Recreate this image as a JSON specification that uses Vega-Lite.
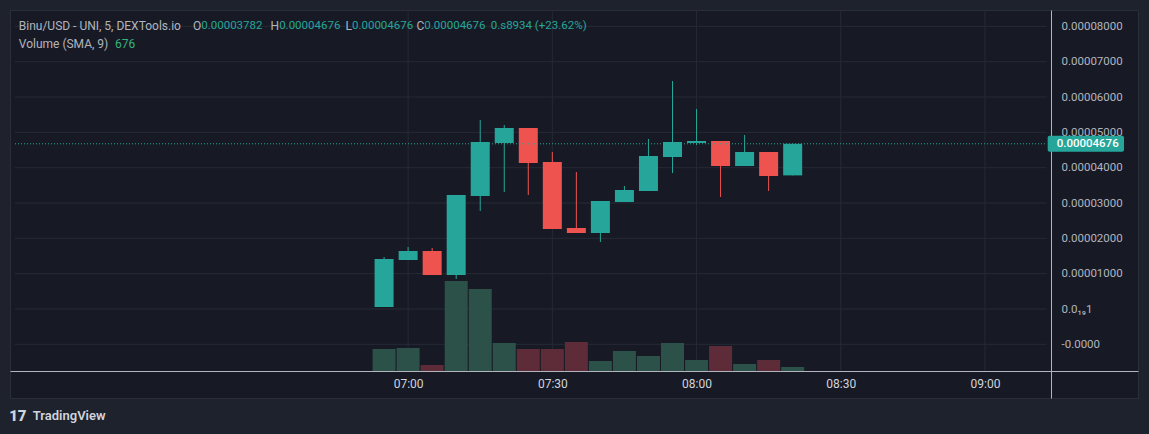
{
  "$schema": "https://vega.github.io/schema/vega-lite/v6.json",
  "width": 1128,
  "height": 388,
  "autosize": {"type": "none"},
  "padding": {"left": 10, "top": 10, "right": 11, "bottom": 36},
  "background": "#1e222d",
  "config": {
    "view": {"fill": "#171a25", "stroke": "#2a2e39", "strokeWidth": 1},
    "text": {"font": "Roboto"},
    "axis": {"labelFont": "Roboto"}
  },
  "datasets": {
    "candles": [
      {"t": "2024-01-01T06:55:00", "o": 0.00000057, "h": 0.00001472, "l": 0.00000057, "c": 0.00001415, "v": 1012},
      {"t": "2024-01-01T07:00:00", "o": 0.00001387, "h": 0.00001755, "l": 0.00001387, "c": 0.00001642, "v": 1058},
      {"t": "2024-01-01T07:05:00", "o": 0.00001642, "h": 0.00001727, "l": 0.00000962, "c": 0.00000962, "v": 276},
      {"t": "2024-01-01T07:10:00", "o": 0.00000962, "h": 0.00003227, "l": 0.00000849, "c": 0.00003227, "v": 4140},
      {"t": "2024-01-01T07:15:00", "o": 0.00003198, "h": 0.00005350, "l": 0.00002774, "c": 0.00004727, "v": 3772},
      {"t": "2024-01-01T07:20:00", "o": 0.00004699, "h": 0.00005208, "l": 0.00003312, "c": 0.00005123, "v": 1288},
      {"t": "2024-01-01T07:25:00", "o": 0.00005123, "h": 0.00005123, "l": 0.00003227, "c": 0.00004132, "v": 1012},
      {"t": "2024-01-01T07:30:00", "o": 0.00004161, "h": 0.00004444, "l": 0.00002264, "c": 0.00002264, "v": 1012},
      {"t": "2024-01-01T07:35:00", "o": 0.00002293, "h": 0.00003878, "l": 0.00002151, "c": 0.00002151, "v": 1334},
      {"t": "2024-01-01T07:40:00", "o": 0.00002151, "h": 0.00003057, "l": 0.00001896, "c": 0.00003057, "v": 460},
      {"t": "2024-01-01T07:45:00", "o": 0.00003029, "h": 0.00003481, "l": 0.00003029, "c": 0.00003368, "v": 920},
      {"t": "2024-01-01T07:50:00", "o": 0.00003340, "h": 0.00004812, "l": 0.00003340, "c": 0.00004331, "v": 690},
      {"t": "2024-01-01T07:55:00", "o": 0.00004302, "h": 0.00006453, "l": 0.00003849, "c": 0.00004727, "v": 1288},
      {"t": "2024-01-01T08:00:00", "o": 0.00004699, "h": 0.00005661, "l": 0.00004642, "c": 0.00004755, "v": 506},
      {"t": "2024-01-01T08:05:00", "o": 0.00004755, "h": 0.00004755, "l": 0.00003170, "c": 0.00004048, "v": 1150},
      {"t": "2024-01-01T08:10:00", "o": 0.00004048, "h": 0.00004925, "l": 0.00004048, "c": 0.00004444, "v": 322},
      {"t": "2024-01-01T08:15:00", "o": 0.00004444, "h": 0.00004444, "l": 0.00003340, "c": 0.00003764, "v": 506},
      {"t": "2024-01-01T08:20:00", "o": 0.00003782, "h": 0.00004676, "l": 0.00003782, "c": 0.00004676, "v": 184}
    ]
  },
  "layer": [
    {
      "layer": [
        {
          "data": {"values": [{"p": -0.00001}, {"p": 0}, {"p": 0.00001}, {"p": 0.00002}, {"p": 0.00003}, {"p": 0.00004}, {"p": 0.00005}, {"p": 0.00006}, {"p": 0.00007}, {"p": 0.00008}]},
          "mark": {"type": "rule", "color": "#262a36", "strokeWidth": 1},
          "encoding": {
            "y": {"field": "p", "type": "quantitative", "scale": {"domain": [-0.00002519, 0.00008463], "zero": false, "nice": false}, "axis": null},
            "x": {"datum": {"year": 2024, "month": 1, "date": 1, "hours": 5, "minutes": 38, "seconds": 13}, "type": "temporal", "scale": {"domain": [{"year": 2024, "month": 1, "date": 1, "hours": 5, "minutes": 38, "seconds": 13}, {"year": 2024, "month": 1, "date": 1, "hours": 9, "minutes": 30, "seconds": 48}], "nice": false}, "axis": null},
            "x2": {"datum": {"year": 2024, "month": 1, "date": 1, "hours": 9, "minutes": 12, "seconds": 51}}
          }
        },
        {
          "data": {"values": [{"g": "2024-01-01T07:00:00"}, {"g": "2024-01-01T07:30:00"}, {"g": "2024-01-01T08:00:00"}, {"g": "2024-01-01T08:30:00"}, {"g": "2024-01-01T09:00:00"}]},
          "mark": {"type": "rule", "color": "#262a36", "strokeWidth": 1},
          "encoding": {
            "x": {"field": "g", "type": "temporal", "scale": {"domain": [{"year": 2024, "month": 1, "date": 1, "hours": 5, "minutes": 38, "seconds": 13}, {"year": 2024, "month": 1, "date": 1, "hours": 9, "minutes": 30, "seconds": 48}], "nice": false}, "axis": null},
            "y": {"datum": 0.00008463, "type": "quantitative", "scale": {"domain": [-0.00002519, 0.00008463], "zero": false, "nice": false}, "axis": null},
            "y2": {"datum": -0.00001755}
          }
        }
      ],
      "resolve": {"axis": {"x": "independent", "y": "independent"}}
    },
    {
      "data": {"name": "candles"},
      "mark": {"type": "bar", "width": 23},
      "encoding": {
        "x": {"field": "t", "type": "temporal", "scale": {"domain": [{"year": 2024, "month": 1, "date": 1, "hours": 5, "minutes": 38, "seconds": 13}, {"year": 2024, "month": 1, "date": 1, "hours": 9, "minutes": 30, "seconds": 48}], "nice": false}, "axis": null},
        "y": {"field": "v", "type": "quantitative", "scale": {"domain": [-1242, 16606], "zero": false, "nice": false}, "axis": null},
        "y2": {"datum": 0},
        "color": {"condition": {"test": "datum.c >= datum.o", "value": "#2c5148"}, "value": "#5d2c38"}
      }
    },
    {
      "layer": [
        {
          "data": {"name": "candles"},
          "mark": {"type": "rule", "strokeWidth": 1},
          "encoding": {
            "x": {"field": "t", "type": "temporal", "scale": {"domain": [{"year": 2024, "month": 1, "date": 1, "hours": 5, "minutes": 38, "seconds": 13}, {"year": 2024, "month": 1, "date": 1, "hours": 9, "minutes": 30, "seconds": 48}], "nice": false},
              "axis": {"orient": "bottom", "values": [{"year": 2024, "month": 1, "date": 1, "hours": 7, "minutes": 0}, {"year": 2024, "month": 1, "date": 1, "hours": 7, "minutes": 30}, {"year": 2024, "month": 1, "date": 1, "hours": 8, "minutes": 0}, {"year": 2024, "month": 1, "date": 1, "hours": 8, "minutes": 30}, {"year": 2024, "month": 1, "date": 1, "hours": 9, "minutes": 0}],
                "format": "%H:%M", "offset": -27, "ticks": false, "tickSize": 0, "grid": false, "title": null,
                "domainColor": "#b2b5be", "domainWidth": 1, "labelColor": "#d1d4dc", "labelFontSize": 12, "labelPadding": 7, "labelFlush": false, "labelOverlap": false}},
            "y": {"field": "l", "type": "quantitative", "scale": {"domain": [-0.00002519, 0.00008463], "zero": false, "nice": false},
              "axis": {"orient": "right", "values": [-0.00001, 0, 0.00001, 0.00002, 0.00003, 0.00004, 0.00005, 0.00006, 0.00007, 0.00008],
                "labelExpr": "datum.value == 0 ? '0.0₁₉1' : (datum.value < 0 ? '-0.0000' : format(datum.value, '.8f'))",
                "offset": -87, "ticks": false, "tickSize": 0, "grid": false, "title": null,
                "domainColor": "#b2b5be", "domainWidth": 1, "labelColor": "#b2b5be", "labelFontSize": 11.5, "labelPadding": 10, "labelAlign": "left", "labelBaseline": "middle", "labelFlush": false, "labelOverlap": false}},
            "y2": {"field": "h"},
            "color": {"condition": {"test": "datum.c >= datum.o", "value": "#26a69a"}, "value": "#ef5350"}
          }
        },
        {
          "data": {"name": "candles"},
          "mark": {"type": "bar", "width": 19},
          "encoding": {
            "x": {"field": "t", "type": "temporal", "scale": {"domain": [{"year": 2024, "month": 1, "date": 1, "hours": 5, "minutes": 38, "seconds": 13}, {"year": 2024, "month": 1, "date": 1, "hours": 9, "minutes": 30, "seconds": 48}], "nice": false}, "axis": null},
            "y": {"field": "o", "type": "quantitative", "scale": {"domain": [-0.00002519, 0.00008463], "zero": false, "nice": false}, "axis": null},
            "y2": {"field": "c"},
            "color": {"condition": {"test": "datum.c >= datum.o", "value": "#26a69a"}, "value": "#ef5350"}
          }
        },
        {
          "data": {"values": [{}]},
          "mark": {"type": "rule", "color": "#26a69a", "strokeDash": [1, 2], "strokeWidth": 1},
          "encoding": {
            "x": {"datum": {"year": 2024, "month": 1, "date": 1, "hours": 5, "minutes": 38, "seconds": 13}, "type": "temporal", "scale": {"domain": [{"year": 2024, "month": 1, "date": 1, "hours": 5, "minutes": 38, "seconds": 13}, {"year": 2024, "month": 1, "date": 1, "hours": 9, "minutes": 30, "seconds": 48}], "nice": false}, "axis": null},
            "x2": {"datum": {"year": 2024, "month": 1, "date": 1, "hours": 9, "minutes": 12, "seconds": 51}},
            "y": {"datum": 0.00004676, "type": "quantitative", "scale": {"domain": [-0.00002519, 0.00008463], "zero": false, "nice": false}, "axis": null}
          }
        },
        {
          "data": {"values": [{}]},
          "mark": {"type": "rect", "color": "#26a69a", "cornerRadius": 2},
          "encoding": {
            "x": {"datum": {"year": 2024, "month": 1, "date": 1, "hours": 9, "minutes": 13, "seconds": 3}, "type": "temporal", "scale": {"domain": [{"year": 2024, "month": 1, "date": 1, "hours": 5, "minutes": 38, "seconds": 13}, {"year": 2024, "month": 1, "date": 1, "hours": 9, "minutes": 30, "seconds": 48}], "nice": false}, "axis": null},
            "x2": {"datum": {"year": 2024, "month": 1, "date": 1, "hours": 9, "minutes": 28, "seconds": 56}},
            "y": {"datum": 0.00004902, "type": "quantitative", "scale": {"domain": [-0.00002519, 0.00008463], "zero": false, "nice": false}, "axis": null},
            "y2": {"datum": 0.00004450}
          }
        },
        {
          "data": {"values": [{}]},
          "mark": {"type": "text", "text": "0.00004676", "color": "#ffffff", "fontSize": 11.5, "fontWeight": 500, "align": "left", "baseline": "middle"},
          "encoding": {
            "x": {"datum": {"year": 2024, "month": 1, "date": 1, "hours": 9, "minutes": 14, "seconds": 55}, "type": "temporal", "scale": {"domain": [{"year": 2024, "month": 1, "date": 1, "hours": 5, "minutes": 38, "seconds": 13}, {"year": 2024, "month": 1, "date": 1, "hours": 9, "minutes": 30, "seconds": 48}], "nice": false}, "axis": null},
            "y": {"datum": 0.00004676, "type": "quantitative", "scale": {"domain": [-0.00002519, 0.00008463], "zero": false, "nice": false}, "axis": null}
          }
        },
        {
          "data": {"values": [{}]},
          "mark": {"type": "text", "text": "Binu/USD - UNI, 5, DEXTools.io", "color": "#b2b5be", "fontSize": 12, "align": "left", "baseline": "middle"},
          "encoding": {
            "x": {"datum": {"year": 2024, "month": 1, "date": 1, "hours": 5, "minutes": 39, "seconds": 0}, "type": "temporal", "scale": {"domain": [{"year": 2024, "month": 1, "date": 1, "hours": 5, "minutes": 38, "seconds": 13}, {"year": 2024, "month": 1, "date": 1, "hours": 9, "minutes": 30, "seconds": 48}], "nice": false}, "axis": null},
            "y": {"datum": 0.00008020, "type": "quantitative", "scale": {"domain": [-0.00002519, 0.00008463], "zero": false, "nice": false}, "axis": null}
          }
        },
        {
          "data": {"values": [{}]},
          "mark": {"type": "text", "text": "O", "color": "#b2b5be", "fontSize": 12, "align": "right", "baseline": "middle"},
          "encoding": {
            "x": {"datum": {"year": 2024, "month": 1, "date": 1, "hours": 6, "minutes": 16, "seconds": 58}, "type": "temporal", "scale": {"domain": [{"year": 2024, "month": 1, "date": 1, "hours": 5, "minutes": 38, "seconds": 13}, {"year": 2024, "month": 1, "date": 1, "hours": 9, "minutes": 30, "seconds": 48}], "nice": false}, "axis": null},
            "y": {"datum": 0.00008020, "type": "quantitative", "scale": {"domain": [-0.00002519, 0.00008463], "zero": false, "nice": false}, "axis": null}
          }
        },
        {
          "data": {"values": [{}]},
          "mark": {"type": "text", "text": "0.00003782", "color": "#26a69a", "fontSize": 11.5, "align": "left", "baseline": "middle"},
          "encoding": {
            "x": {"datum": {"year": 2024, "month": 1, "date": 1, "hours": 6, "minutes": 16, "seconds": 58}, "type": "temporal", "scale": {"domain": [{"year": 2024, "month": 1, "date": 1, "hours": 5, "minutes": 38, "seconds": 13}, {"year": 2024, "month": 1, "date": 1, "hours": 9, "minutes": 30, "seconds": 48}], "nice": false}, "axis": null},
            "y": {"datum": 0.00008020, "type": "quantitative", "scale": {"domain": [-0.00002519, 0.00008463], "zero": false, "nice": false}, "axis": null}
          }
        },
        {
          "data": {"values": [{}]},
          "mark": {"type": "text", "text": "H", "color": "#b2b5be", "fontSize": 12, "align": "right", "baseline": "middle"},
          "encoding": {
            "x": {"datum": {"year": 2024, "month": 1, "date": 1, "hours": 6, "minutes": 33, "seconds": 10}, "type": "temporal", "scale": {"domain": [{"year": 2024, "month": 1, "date": 1, "hours": 5, "minutes": 38, "seconds": 13}, {"year": 2024, "month": 1, "date": 1, "hours": 9, "minutes": 30, "seconds": 48}], "nice": false}, "axis": null},
            "y": {"datum": 0.00008020, "type": "quantitative", "scale": {"domain": [-0.00002519, 0.00008463], "zero": false, "nice": false}, "axis": null}
          }
        },
        {
          "data": {"values": [{}]},
          "mark": {"type": "text", "text": "0.00004676", "color": "#26a69a", "fontSize": 11.5, "align": "left", "baseline": "middle"},
          "encoding": {
            "x": {"datum": {"year": 2024, "month": 1, "date": 1, "hours": 6, "minutes": 33, "seconds": 10}, "type": "temporal", "scale": {"domain": [{"year": 2024, "month": 1, "date": 1, "hours": 5, "minutes": 38, "seconds": 13}, {"year": 2024, "month": 1, "date": 1, "hours": 9, "minutes": 30, "seconds": 48}], "nice": false}, "axis": null},
            "y": {"datum": 0.00008020, "type": "quantitative", "scale": {"domain": [-0.00002519, 0.00008463], "zero": false, "nice": false}, "axis": null}
          }
        },
        {
          "data": {"values": [{}]},
          "mark": {"type": "text", "text": "L", "color": "#b2b5be", "fontSize": 12, "align": "right", "baseline": "middle"},
          "encoding": {
            "x": {"datum": {"year": 2024, "month": 1, "date": 1, "hours": 6, "minutes": 48, "seconds": 19}, "type": "temporal", "scale": {"domain": [{"year": 2024, "month": 1, "date": 1, "hours": 5, "minutes": 38, "seconds": 13}, {"year": 2024, "month": 1, "date": 1, "hours": 9, "minutes": 30, "seconds": 48}], "nice": false}, "axis": null},
            "y": {"datum": 0.00008020, "type": "quantitative", "scale": {"domain": [-0.00002519, 0.00008463], "zero": false, "nice": false}, "axis": null}
          }
        },
        {
          "data": {"values": [{}]},
          "mark": {"type": "text", "text": "0.00004676", "color": "#26a69a", "fontSize": 11.5, "align": "left", "baseline": "middle"},
          "encoding": {
            "x": {"datum": {"year": 2024, "month": 1, "date": 1, "hours": 6, "minutes": 48, "seconds": 19}, "type": "temporal", "scale": {"domain": [{"year": 2024, "month": 1, "date": 1, "hours": 5, "minutes": 38, "seconds": 13}, {"year": 2024, "month": 1, "date": 1, "hours": 9, "minutes": 30, "seconds": 48}], "nice": false}, "axis": null},
            "y": {"datum": 0.00008020, "type": "quantitative", "scale": {"domain": [-0.00002519, 0.00008463], "zero": false, "nice": false}, "axis": null}
          }
        },
        {
          "data": {"values": [{}]},
          "mark": {"type": "text", "text": "C", "color": "#b2b5be", "fontSize": 12, "align": "right", "baseline": "middle"},
          "encoding": {
            "x": {"datum": {"year": 2024, "month": 1, "date": 1, "hours": 7, "minutes": 3, "seconds": 22}, "type": "temporal", "scale": {"domain": [{"year": 2024, "month": 1, "date": 1, "hours": 5, "minutes": 38, "seconds": 13}, {"year": 2024, "month": 1, "date": 1, "hours": 9, "minutes": 30, "seconds": 48}], "nice": false}, "axis": null},
            "y": {"datum": 0.00008020, "type": "quantitative", "scale": {"domain": [-0.00002519, 0.00008463], "zero": false, "nice": false}, "axis": null}
          }
        },
        {
          "data": {"values": [{}]},
          "mark": {"type": "text", "text": "0.00004676", "color": "#26a69a", "fontSize": 11.5, "align": "left", "baseline": "middle"},
          "encoding": {
            "x": {"datum": {"year": 2024, "month": 1, "date": 1, "hours": 7, "minutes": 3, "seconds": 22}, "type": "temporal", "scale": {"domain": [{"year": 2024, "month": 1, "date": 1, "hours": 5, "minutes": 38, "seconds": 13}, {"year": 2024, "month": 1, "date": 1, "hours": 9, "minutes": 30, "seconds": 48}], "nice": false}, "axis": null},
            "y": {"datum": 0.00008020, "type": "quantitative", "scale": {"domain": [-0.00002519, 0.00008463], "zero": false, "nice": false}, "axis": null}
          }
        },
        {
          "data": {"values": [{}]},
          "mark": {"type": "text", "text": "0.s8934 (+23.62%)", "color": "#26a69a", "fontSize": 11.5, "align": "left", "baseline": "middle"},
          "encoding": {
            "x": {"datum": {"year": 2024, "month": 1, "date": 1, "hours": 7, "minutes": 17, "seconds": 11}, "type": "temporal", "scale": {"domain": [{"year": 2024, "month": 1, "date": 1, "hours": 5, "minutes": 38, "seconds": 13}, {"year": 2024, "month": 1, "date": 1, "hours": 9, "minutes": 30, "seconds": 48}], "nice": false}, "axis": null},
            "y": {"datum": 0.00008020, "type": "quantitative", "scale": {"domain": [-0.00002519, 0.00008463], "zero": false, "nice": false}, "axis": null}
          }
        },
        {
          "data": {"values": [{}]},
          "mark": {"type": "text", "text": "Volume (SMA, 9)", "color": "#b2b5be", "fontSize": 12, "align": "left", "baseline": "middle"},
          "encoding": {
            "x": {"datum": {"year": 2024, "month": 1, "date": 1, "hours": 5, "minutes": 39, "seconds": 0}, "type": "temporal", "scale": {"domain": [{"year": 2024, "month": 1, "date": 1, "hours": 5, "minutes": 38, "seconds": 13}, {"year": 2024, "month": 1, "date": 1, "hours": 9, "minutes": 30, "seconds": 48}], "nice": false}, "axis": null},
            "y": {"datum": 0.00007510, "type": "quantitative", "scale": {"domain": [-0.00002519, 0.00008463], "zero": false, "nice": false}, "axis": null}
          }
        },
        {
          "data": {"values": [{}]},
          "mark": {"type": "text", "text": "676", "color": "#34b27d", "fontSize": 12, "align": "left", "baseline": "middle"},
          "encoding": {
            "x": {"datum": {"year": 2024, "month": 1, "date": 1, "hours": 5, "minutes": 59, "seconds": 0}, "type": "temporal", "scale": {"domain": [{"year": 2024, "month": 1, "date": 1, "hours": 5, "minutes": 38, "seconds": 13}, {"year": 2024, "month": 1, "date": 1, "hours": 9, "minutes": 30, "seconds": 48}], "nice": false}, "axis": null},
            "y": {"datum": 0.00007510, "type": "quantitative", "scale": {"domain": [-0.00002519, 0.00008463], "zero": false, "nice": false}, "axis": null}
          }
        },
        {
          "data": {"values": [{}]},
          "mark": {"type": "text", "text": "17", "color": "#d1d4dc", "fontSize": 15, "fontWeight": 900, "align": "left", "baseline": "middle"},
          "encoding": {
            "x": {"datum": {"year": 2024, "month": 1, "date": 1, "hours": 5, "minutes": 37, "seconds": 0}, "type": "temporal", "scale": {"domain": [{"year": 2024, "month": 1, "date": 1, "hours": 5, "minutes": 38, "seconds": 13}, {"year": 2024, "month": 1, "date": 1, "hours": 9, "minutes": 30, "seconds": 48}], "nice": false}, "axis": null},
            "y": {"datum": -0.00003029, "type": "quantitative", "scale": {"domain": [-0.00002519, 0.00008463], "zero": false, "nice": false}, "axis": null}
          }
        },
        {
          "data": {"values": [{}]},
          "mark": {"type": "text", "text": "TradingView", "color": "#d1d4dc", "fontSize": 13, "fontWeight": 600, "align": "left", "baseline": "middle"},
          "encoding": {
            "x": {"datum": {"year": 2024, "month": 1, "date": 1, "hours": 5, "minutes": 41, "seconds": 55}, "type": "temporal", "scale": {"domain": [{"year": 2024, "month": 1, "date": 1, "hours": 5, "minutes": 38, "seconds": 13}, {"year": 2024, "month": 1, "date": 1, "hours": 9, "minutes": 30, "seconds": 48}], "nice": false}, "axis": null},
            "y": {"datum": -0.00003029, "type": "quantitative", "scale": {"domain": [-0.00002519, 0.00008463], "zero": false, "nice": false}, "axis": null}
          }
        }
      ],
      "resolve": {"axis": {"x": "independent", "y": "independent"}}
    }
  ],
  "resolve": {"scale": {"y": "independent"}, "axis": {"x": "independent", "y": "independent"}}
}
